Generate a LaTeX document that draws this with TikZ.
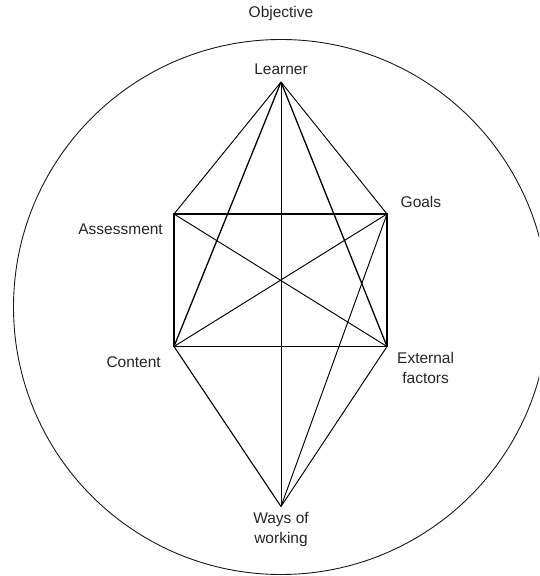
\documentclass[tikz,border=0pt]{standalone}
\usepackage{fontspec}
\setmainfont{Liberation Sans}
\usetikzlibrary{
    positioning,                      % right=of, below=of, etc.
    calc                              % aritmetica de coordenadas
}
\tikzset{
    lbl/.style={
        font=\fontsize{15.5}{20}\selectfont, text=black!85,
        align=center, inner sep=2pt
    },
    edge/.style={
        draw=black, line width=0.95pt
    },
    strong/.style={
        draw=black, line width=1.3pt
    }
}

\begin{document}
\begin{tikzpicture}[x=1pt, y=1pt]
        \useasboundingbox (0,0) rectangle (539,576);
        \clip (0,0) rectangle (539,576);
        % outer ring
        \node[draw=black!90, line width=0.9pt, circle, minimum size=535pt, inner sep=0pt] (ring) at (281,269) {};
        \node[lbl, above=16pt of ring.north] (objective) {Objective};
        % vertices
        \coordinate (learner)  at (281,494);
        \coordinate (assess)   at (174,362);
        \coordinate (goals)    at (387,362);
        \coordinate (content)  at (174,229.5);
        \coordinate (external) at (387,229.5);
        \coordinate (ways)     at (281,69.5);
        % labels
        \node[lbl, above=5pt of learner] (learnerlbl) {Learner};
        \node[lbl, left=9pt of assess, yshift=-15pt] (assesslbl) {Assessment};
        \node[lbl, right=11.5pt of goals, yshift=12pt] (goalslbl) {Goals};
        \node[lbl, left=11pt of content, yshift=-16pt] (contentlbl) {Content};
        \node[lbl, right=8pt of external, yshift=-21pt] (externallbl) {External\\factors};
        \node[lbl, below=3.5pt of ways] (wayslbl) {Ways of\\working};
        % rectangle and diagonals
        \draw[edge, line width=1.1pt] (assess) -- (goals) -- (external) -- (content) -- cycle;
        \draw[edge] (assess) -- (external);
        \draw[edge] (goals) -- (content);
        % from learner
        \draw[edge] (learner) -- (assess);
        \draw[edge] (learner) -- (goals);
        \draw[strong] (learner) -- (content);
        \draw[strong] (learner) -- (external);
        \draw[edge] (learner) -- (ways);
        % from ways of working
        \draw[edge, line width=1.1pt] (ways) -- (content);
        \draw[edge] (ways) -- (external);
        \draw[edge] (ways) -- (goals);
    \end{tikzpicture}
\end{document}
